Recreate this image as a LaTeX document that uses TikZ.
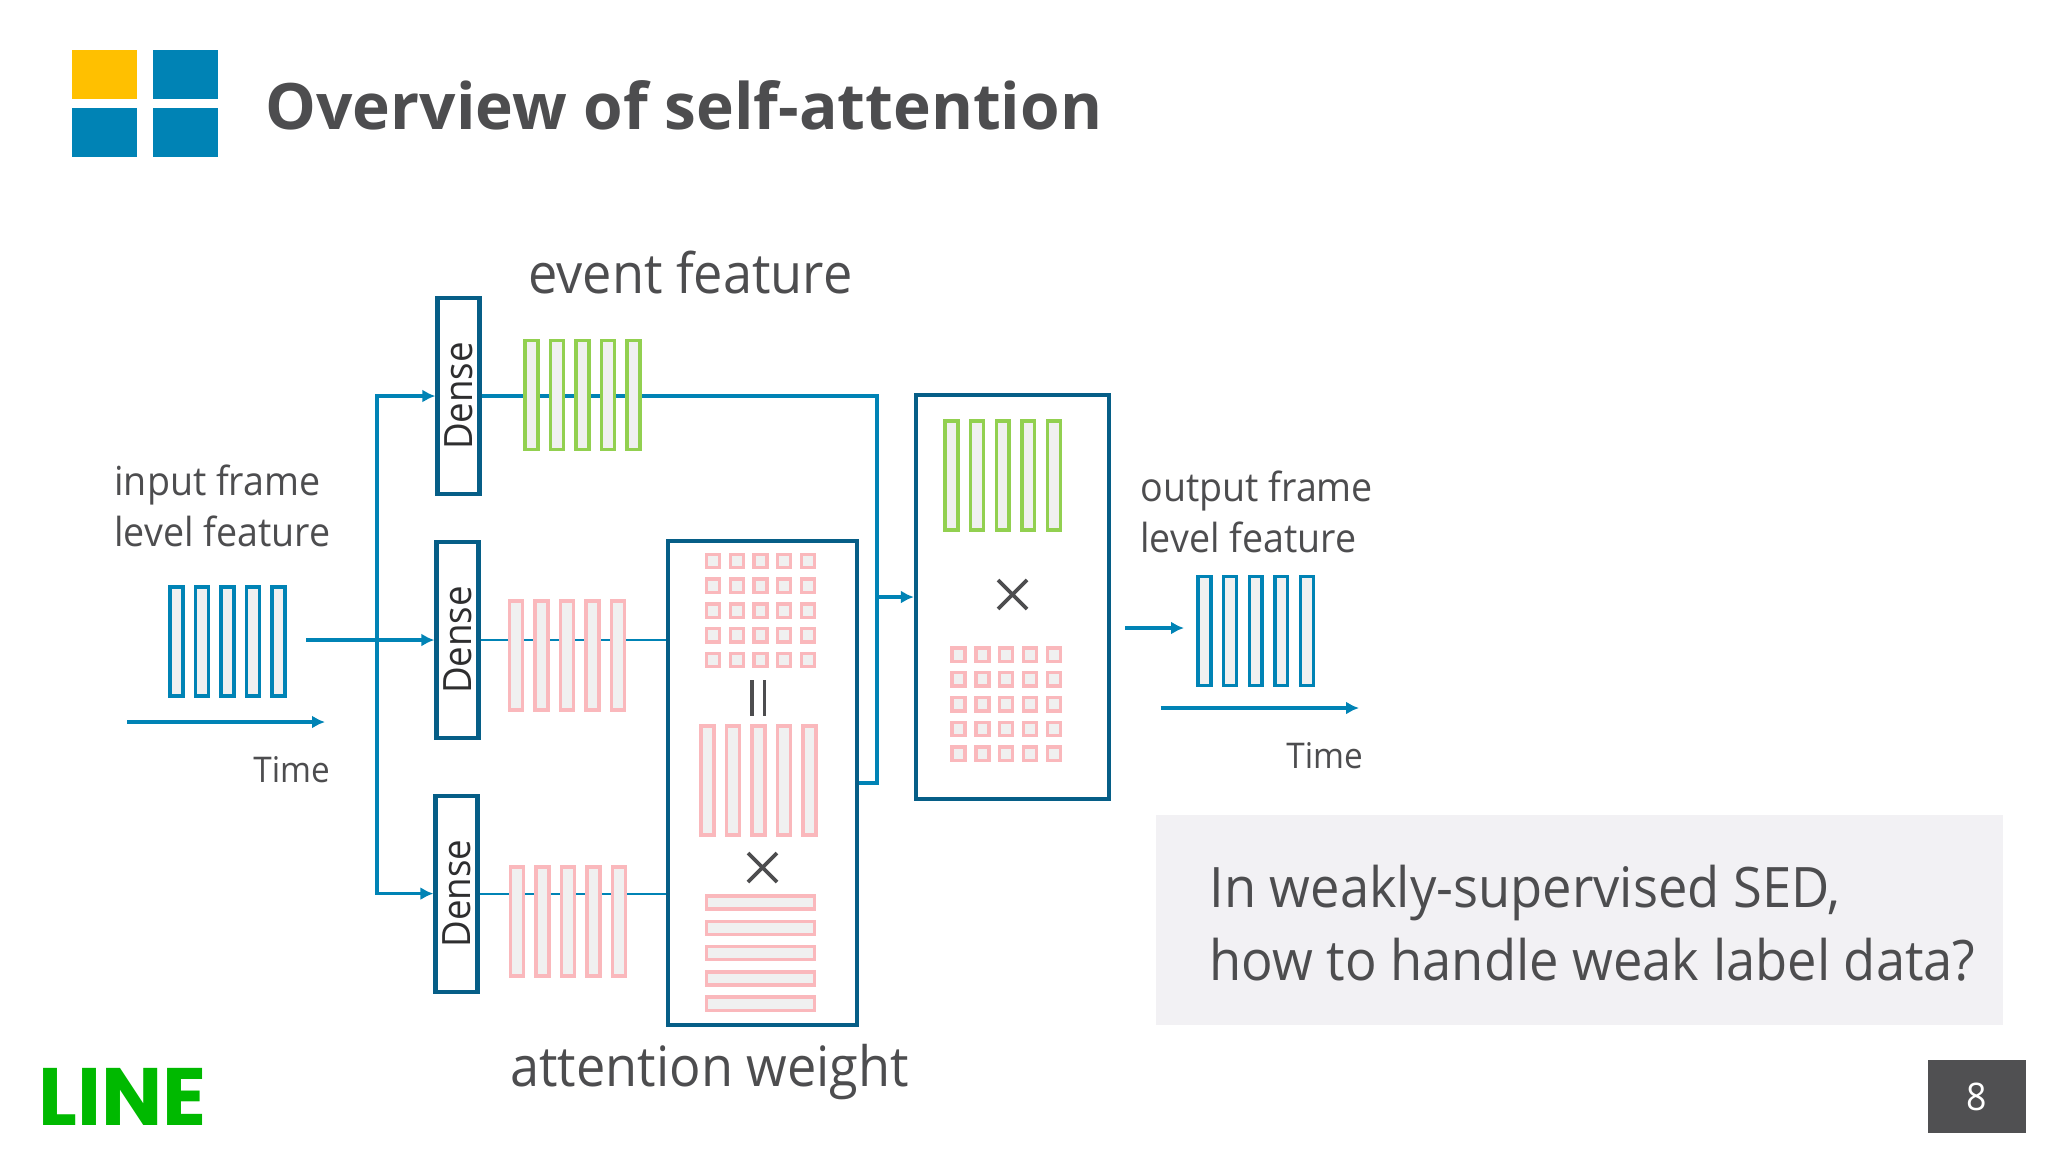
\documentclass[tikz,border=0pt]{standalone}
\usepackage{fontspec}
\setmainfont[FakeStretch=.94]{Open Sans}
\newfontfamily\titlefont{Open Sans}
\newfontfamily\logofont{Poppins}
\usetikzlibrary{arrows.meta}
\definecolor{tile}{RGB}{0,131,181}
\definecolor{sun}{RGB}{255,192,0}
\definecolor{boxblue}{RGB}{6,94,135}
\definecolor{wireblue}{RGB}{0,131,181}
\definecolor{leaf}{RGB}{146,208,80}
\definecolor{rose}{RGB}{250,184,188}
\definecolor{barfill}{RGB}{240,240,240}
\definecolor{ink}{RGB}{77,77,79}
\definecolor{panel}{RGB}{242,241,244}
\definecolor{pagebox}{RGB}{80,80,82}
\definecolor{linegreen}{RGB}{0,185,0}

\begin{document}
\begin{tikzpicture}[x=.5pt,y=-.5pt,
    label/.style={anchor=base west,inner sep=0,text=ink,font=\fontsize{20}{22}\selectfont},
    timelabel/.style={label,font=\fontsize{17.7}{20}\selectfont},
    big/.style={anchor=base west,inner sep=0,text=ink,font=\fontsize{27.8}{30}\selectfont},
    tilebox/.style={fill=tile,inner sep=0,minimum width=32.5pt,minimum height=24.5pt},
    block/.style={draw=boxblue,line width=2.1pt,inner sep=0},
    dense/.style={block,minimum width=21pt,minimum height=98pt,text=ink!60!black,font=\fontsize{19.5}{20}\selectfont},
    wire/.style={draw=wireblue,line width=1.6pt},
    thinwire/.style={draw=wireblue,line width=.9pt},
    flow/.style={wire,-{Latex[length=6.5pt,width=6.5pt]}},
    vbar/.style={fill=barfill,line width=1.7pt,inner sep=0,minimum width=6.4pt,minimum height=54.5pt},
    hbar/.style={fill=barfill,draw=rose,line width=1.7pt,inner sep=0,minimum width=54pt,minimum height=6.6pt},
    cell/.style={fill=barfill,draw=rose,line width=1.7pt,inner sep=0,minimum width=6.5pt,minimum height=6.7pt},
    cross/.style={draw=ink,line width=1.9pt}]

    \useasboundingbox (0,0) rectangle (2048,1152);

    \node[tilebox,fill=sun] (tile1) at (104.5,74.5) {};
    \node[tilebox] (tile2) at (185.5,74.5) {};
    \node[tilebox] (tile3) at (104.5,132.5) {};
    \node[tilebox] (tile4) at (185.5,132.5) {};
    \node[anchor=base west,inner sep=0,text=ink,font=\titlefont\bfseries\fontsize{32}{36}\selectfont] (title) at (265,129) {Overview of self-attention};

    \node[dense] (dense1) at (458.5,396) {\rotatebox{90}{Dense}};
    \node[dense] (dense2) at (457.5,640) {\rotatebox{90}{Dense}};
    \node[dense] (dense3) at (456.5,893.6) {\rotatebox{90}{Dense}};
    \node[block,minimum width=94.5pt,minimum height=242pt] (attn) at (762.5,783) {};
    \node[block,minimum width=96.5pt,minimum height=202pt] (prod) at (1012.5,597) {};

    \coordinate (inp) at (306,640);
    \coordinate (split) at (377,640);
    \coordinate (joint) at (877,597);
    \draw[flow] (inp) -- (dense2.west);
    \draw[flow] (split) |- (dense1.west);
    \draw[flow] (split) |- (dense3.west);
    \draw[wire] (dense1.east) -| (joint);
    \draw[wire] (attn.east) -| (joint);
    \draw[flow] (joint) -- (prod.west);
    \draw[thinwire] (dense2.east) -- (attn.west |- dense2.east);
    \draw[thinwire] (dense3.east) -- (attn.west |- dense3.east);

    % five bars per feature map
    \foreach \i in {0,...,4} {
        \node[vbar,draw=wireblue] (inbar\i) at ({176.5+25.5*\i},641.5) {};
        \node[vbar,draw=wireblue] (outbar\i) at ({1204.5+25.6*\i},631) {};
        \node[vbar,draw=leaf] (event\i) at ({531.5+25.5*\i},395) {};
        \node[vbar,draw=leaf] (prodbar\i) at ({951.5+25.6*\i},475.5) {};
        \node[vbar,draw=rose] (key\i) at ({516+25.5*\i},655.5) {};
        \node[vbar,draw=rose] (query\i) at ({517+25.5*\i},921.5) {};
        \node[vbar,draw=rose] (tall\i) at ({707.5+25.5*\i},780.5) {};
        \node[hbar] (wide\i) at (760.5,{902.5+25.3*\i}) {};
    }
    \foreach \i in {0,...,4} {
        \foreach \j in {0,...,4} {
            \node[cell] (wa\i\j) at ({713+23.75*\i},{561+24.75*\j}) {};
            \node[cell] (wb\i\j) at ({958.5+23.8*\i},{654.5+24.8*\j}) {};
        }
    }

    \draw[line width=1.6pt,ink] (752,680) -- (752,716) (764.5,680) -- (764.5,716);
    \draw[cross] (748,853) -- (777,882) (777,853) -- (748,882);
    \draw[cross] (998,580) -- (1027,609) (1027,580) -- (998,609);

    \node[big] (eventlabel) at (528,293) {event feature};
    \node[big] (weightlabel) at (510,1086) {attention weight};

    \node[label] (inlabel1) at (114,495) {input frame};
    \node[label] (inlabel2) at (114,546) {level feature};
    \node[timelabel] (intime) at (253,782) {Time};
    \coordinate (time1) at (127,722);
    \coordinate (time2) at (325,722);
    \draw[flow] (time1) -- (time2);

    \node[label] (outlabel1) at (1140,501) {output frame};
    \node[label] (outlabel2) at (1140,552) {level feature};
    \node[timelabel] (outtime) at (1286,768) {Time};
    \coordinate (out1) at (1125,628);
    \coordinate (out2) at (1184,628);
    \coordinate (time3) at (1160.5,708);
    \coordinate (time4) at (1359,708);
    \draw[flow] (out1) -- (out2);
    \draw[flow] (time3) -- (time4);

    \node[fill=panel,inner sep=0,minimum width=423.5pt,minimum height=105pt] (note) at (1579.5,919.7) {};
    \node[big,font=\fontsize{27.9}{30}\selectfont] (note1) at (1209,907.5) {In weakly-supervised SED,};
    \node[big,font=\fontsize{27.9}{30}\selectfont] (note2) at (1209,980) {how to handle weak label data?};

    \node[fill=pagebox,text=white,inner sep=0,minimum width=49pt,minimum height=36.5pt,font=\fontsize{19}{20}\selectfont] (page) at (1977,1096.7) {8};
    \node[anchor=base west,inner sep=0,text=linegreen,font=\logofont\bfseries\fontsize{40.7}{40}\selectfont] (logo) at (38,1125) {LINE};
\end{tikzpicture}
\end{document}
